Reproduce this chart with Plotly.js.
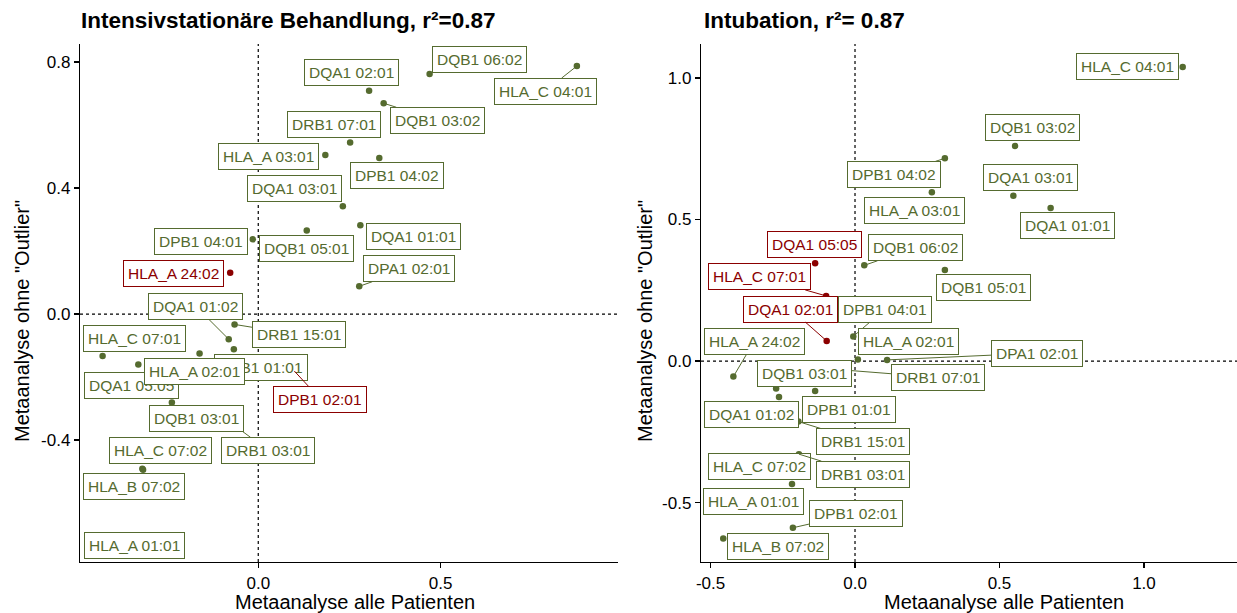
<!DOCTYPE html>
<html>
<head>
<meta charset="utf-8">
<script src="https://cdn.plot.ly/plotly-3.0.1.min.js"></script>
<style>html,body{margin:0;padding:0;background:#fff;}#chart{width:1237px;height:613px;}</style>
</head>
<body>
<div id="chart"></div>
<script>
// ---------- Data: left panel (Intensivstationäre Behandlung) ----------
const labelsL = ["DQB1 06:02","HLA_C 04:01","DQA1 02:01","DQB1 03:02","DRB1 07:01","HLA_A 03:01","DPB1 04:02","DQA1 03:01","DQA1 01:01","DQB1 05:01","DPB1 04:01","HLA_A 24:02","DPA1 02:01","DQA1 01:02","DRB1 15:01","HLA_C 07:01","DPB1 01:01","DQA1 05:05","HLA_A 02:01","DPB1 02:01","DRB1 03:01","DQB1 03:01","HLA_C 07:02","HLA_B 07:02","HLA_A 01:01"];
const xAll_L  = [0.470,0.874,0.304,0.344,0.252,0.184,0.332,0.232,0.280,0.133,-0.015,-0.077,0.277,-0.081,-0.065,-0.427,-0.067,-0.329,-0.161,0.099,-0.071,-0.237,-0.318,-0.316,-0.324];
const yOhne_L = [0.762,0.787,0.709,0.669,0.544,0.505,0.495,0.342,0.282,0.265,0.237,0.131,0.088,-0.080,-0.033,-0.133,-0.112,-0.160,-0.125,-0.181,-0.349,-0.281,-0.491,-0.494,-0.733];
const outlierL = [0,0,0,0,0,0,0,0,0,0,0,1,0,0,0,0,0,0,0,1,0,0,0,0,0];

// ---------- Data: right panel (Intubation) ----------
const labelsR = ["HLA_C 04:01","DQB1 03:02","DPB1 04:02","HLA_A 03:01","DQA1 03:01","DQA1 01:01","DQA1 05:05","DQB1 06:02","DQB1 05:01","HLA_C 07:01","DQA1 02:01","DPB1 04:01","HLA_A 24:02","HLA_A 02:01","DPA1 02:01","DRB1 07:01","DQB1 03:01","DPB1 01:01","DQA1 01:02","DRB1 15:01","HLA_C 07:02","DRB1 03:01","HLA_A 01:01","DPB1 02:01","HLA_B 07:02"];
const xAll_R  = [1.134,0.554,0.311,0.266,0.548,0.677,-0.138,0.032,0.311,-0.100,-0.098,-0.006,-0.421,0.010,0.111,-0.035,-0.273,-0.138,-0.263,-0.196,-0.218,-0.194,-0.329,-0.215,-0.456];
const yOhne_R = [1.039,0.760,0.716,0.596,0.584,0.541,0.345,0.338,0.322,0.230,0.071,0.087,-0.055,0.005,0.004,-0.032,-0.097,-0.106,-0.127,-0.214,-0.434,-0.329,-0.491,-0.589,-0.627];
const outlierR = [0,0,0,0,0,0,1,0,0,1,1,0,0,0,0,0,0,0,0,0,0,0,0,0,0];

// Tick labels
const xTicksL = [0, 0.5], xTickTextL = ["0.0","0.5"];
const yTicksL = [-0.4, 0, 0.4, 0.8], yTickTextL = ["-0.4","0.0","0.4","0.8"];
const xTicksR = [-0.5, 0, 0.5, 1.0], xTickTextR = ["-0.5","0.0","0.5","1.0"];
const yTicksR = [-0.5, 0, 0.5, 1.0], yTickTextR = ["-0.5","0.0","0.5","1.0"];

// ---------- Label placement (pixel offsets from point, like ggrepel) ----------
const offL = [[49.7,-14.7,0],[-31.7,25,1],[-18,-18,0],[53.7,17,1],[-15.9,-18.4,0],[-56.5,1.3,0],[17.5,17.8,0],[-48.5,-17.5,0],[53.5,11,0],[0,17.6,0],[-52.2,2,0],[-56.3,1,0],[50.1,-17.6,1],[-33,-33,1],[64.5,10.4,1],[31.8,-17.3,0],[26.8,17.9,0],[-7.3,20.7,0],[-5.1,17.7,0],[26,28,1],[35.8,26.3,1],[24.3,15.5,0],[18.4,-18.2,0],[-9,17,0],[-6,1,0]];
const offR = [[-55.2,-0.2,0],[17.2,-18.2,0],[-50.5,16,1],[-17.7,17.7,0],[17.2,-17.9,0],[17.1,17.3,0],[-0.7,-18.8,0],[50.9,-17.6,1],[38.8,17.7,0],[-66.3,-19,1],[-35.9,-31.7,1],[31.4,-27,1],[20.7,-35,1],[50.7,-18,0],[149.5,-6.8,1],[92.7,7.3,1],[28.8,-14.5,0],[33.7,18.3,0],[-27.8,17.8,0],[64.9,20,1],[-32.5,-17.7,0],[64.2,20,1],[-6,1.3,0],[63,-14.2,1],[54.9,7.5,0]];

const GREEN = "#556B2F", RED = "#8B0000";
const FONT = "Liberation Sans, Arial, Helvetica, sans-serif";

function colorOf(flag){ return flag ? RED : GREEN; }

const traces = [
  {type:"scatter", mode:"markers", x:xAll_L, y:yOhne_L, xaxis:"x", yaxis:"y",
   marker:{size:6.5, color:outlierL.map(colorOf)}, hoverinfo:"skip", showlegend:false},
  {type:"scatter", mode:"markers", x:xAll_R, y:yOhne_R, xaxis:"x2", yaxis:"y2",
   marker:{size:6.5, color:outlierR.map(colorOf)}, hoverinfo:"skip", showlegend:false}
];

function makeLabels(labels, xs, ys, flags, offs, xr, yr){
  return labels.map((t,i)=>{
    const c = colorOf(flags[i]);
    const o = offs[i];
    const base = {x:xs[i], y:ys[i], xref:xr, yref:yr, text:t,
      font:{family:FONT, size:15.5, color:c}, bgcolor:"#ffffff",
      bordercolor:c, borderwidth:1, borderpad:4};
    if (o[2]) {
      return Object.assign(base, {showarrow:true, arrowhead:0, arrowwidth:1, arrowcolor:c,
        standoff:0, ax:o[0], ay:o[1]});
    }
    return Object.assign(base, {showarrow:false, xshift:o[0], yshift:-o[1]});
  });
}

const annotations = [].concat(
  makeLabels(labelsL, xAll_L, yOhne_L, outlierL, offL, "x", "y"),
  makeLabels(labelsR, xAll_R, yOhne_R, outlierR, offR, "x2", "y2"),
  [
    {text:"Intensivstationäre Behandlung, r²=0.87", xref:"paper", yref:"paper", x:79/1237, y:1+24/518,
     xanchor:"left", yanchor:"middle", showarrow:false, font:{family:FONT, size:22.5, color:"#000", weight:"bold"}},
    {text:"Intubation, r²= 0.87", xref:"paper", yref:"paper", x:702/1237, y:1+24/518,
     xanchor:"left", yanchor:"middle", showarrow:false, font:{family:FONT, size:22.5, color:"#000", weight:"bold"}},
    {text:"Metaanalyse alle Patienten", xref:"paper", yref:"paper", x:355/1237, y:-40/518,
     xanchor:"center", yanchor:"middle", showarrow:false, font:{family:FONT, size:20, color:"#000"}},
    {text:"Metaanalyse alle Patienten", xref:"paper", yref:"paper", x:1004/1237, y:-40/518,
     xanchor:"center", yanchor:"middle", showarrow:false, font:{family:FONT, size:20, color:"#000"}},
    {text:"Metaanalyse ohne \"Outlier\"", xref:"paper", yref:"paper", x:22/1237, y:(562-321)/518,
     xanchor:"center", yanchor:"middle", textangle:-90, showarrow:false, font:{family:FONT, size:20, color:"#000"}},
    {text:"Metaanalyse ohne \"Outlier\"", xref:"paper", yref:"paper", x:645/1237, y:(562-321)/518,
     xanchor:"center", yanchor:"middle", textangle:-90, showarrow:false, font:{family:FONT, size:20, color:"#000"}}
  ]
);

function axis(extra){
  return Object.assign({showgrid:false, zeroline:false, showline:true, linecolor:"#000", linewidth:1.2,
    ticks:"outside", ticklen:5, tickwidth:1.2, tickcolor:"#000", tickmode:"array",
    tickfont:{family:FONT, size:17, color:"#000"}, fixedrange:true}, extra);
}

const dotLine = {color:"#000", width:1.2, dash:"dot"};
const shapes = [
  {type:"line", xref:"x", yref:"y domain", x0:0, x1:0, y0:0, y1:1, line:dotLine, layer:"below"},
  {type:"line", xref:"x domain", yref:"y", x0:0, x1:1, y0:0, y1:0, line:dotLine, layer:"below"},
  {type:"line", xref:"x2", yref:"y2 domain", x0:0, x1:0, y0:0, y1:1, line:dotLine, layer:"below"},
  {type:"line", xref:"x2 domain", yref:"y2", x0:0, x1:1, y0:0, y1:0, line:dotLine, layer:"below"}
];

const layout = {
  width:1237, height:613,
  margin:{l:0, r:0, t:44, b:51},
  paper_bgcolor:"#fff", plot_bgcolor:"#fff",
  showlegend:false, hovermode:false,
  xaxis: axis({domain:[80/1237, 617.7/1237], range:[-0.489, 0.986], tickvals:xTicksL, ticktext:xTickTextL, anchor:"y"}),
  yaxis: axis({domain:[0,1], range:[-0.787, 0.857], tickvals:yTicksL, ticktext:yTickTextL, anchor:"x"}),
  xaxis2: axis({domain:[701/1237, 1], range:[-0.533, 1.322], tickvals:xTicksR, ticktext:xTickTextR, anchor:"y2"}),
  yaxis2: axis({domain:[0,1], range:[-0.71, 1.12], tickvals:yTicksR, ticktext:yTickTextR, anchor:"x2"}),
  shapes: shapes,
  annotations: annotations
};

Plotly.newPlot("chart", traces, layout, {staticPlot:true, displayModeBar:false});
</script>
</body>
</html>
